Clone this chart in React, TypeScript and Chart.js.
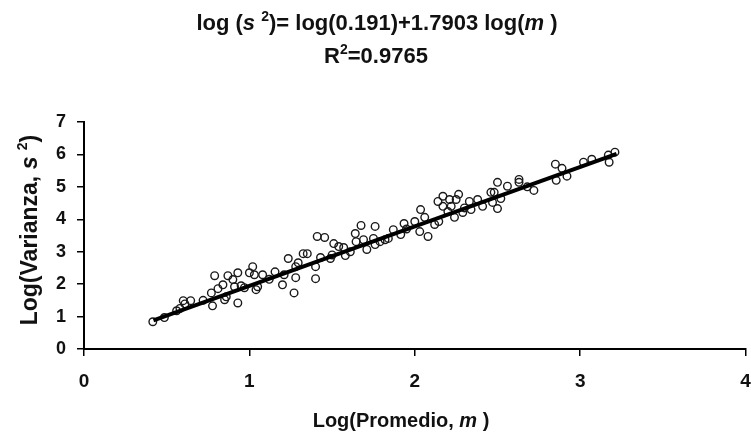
import React, { useEffect, useRef } from "react";
import { Chart, registerables } from "chart.js";

Chart.register(...registerables);

// Observed data: Log(Promedio, m) vs Log(Varianza, s^2)
const logMean = [
  0.416, 0.486, 0.56, 0.58, 0.60, 0.61, 0.645, 0.72, 0.79, 0.77, 0.777, 0.81, 0.84, 0.85, 0.86, 0.87,
  0.90, 0.93, 0.93, 0.91, 0.95, 0.97, 1.0, 1.02, 1.03, 1.05, 1.08, 1.04, 1.12, 1.155, 1.20, 1.21,
  1.235, 1.27, 1.28, 1.295, 1.325, 1.28, 1.35, 1.40, 1.40, 1.43, 1.41, 1.455, 1.49, 1.50, 1.51, 1.54,
  1.58, 1.57, 1.61, 1.64, 1.645, 1.675, 1.69, 1.71, 1.75, 1.76, 1.76, 1.79, 1.82, 1.84, 1.87, 1.915,
  1.935, 1.95, 2.0, 2.03, 2.035, 2.06, 2.08, 2.12, 2.145, 2.14, 2.17, 2.17, 2.21, 2.22, 2.25, 2.265,
  2.20, 2.24, 2.29, 2.30, 2.33, 2.34, 2.38, 2.41, 2.46, 2.48, 2.50, 2.47, 2.50, 2.52, 2.56, 2.63,
  2.63, 2.68, 2.72, 2.85, 2.89, 2.855, 2.92, 3.02, 3.07, 3.17, 3.175, 3.21,
];
const logVariance = [
  0.84, 0.97, 1.18, 1.25, 1.49, 1.39, 1.49, 1.50, 2.26, 1.73, 1.33, 1.86, 1.98, 1.52, 1.61, 2.26,
  2.14, 2.35, 1.42, 1.92, 1.95, 1.89, 2.35, 2.54, 2.29, 1.92, 2.29, 1.83, 2.15, 2.38, 1.98, 2.29,
  2.79, 1.73, 2.20, 2.66, 2.94, 2.54, 2.94, 2.54, 2.17, 2.82, 3.47, 3.44, 2.79, 2.90, 3.25, 3.16,
  2.88, 3.13, 3.0, 3.56, 3.31, 3.81, 3.37, 3.07, 3.41, 3.78, 3.22, 3.31, 3.37, 3.41, 3.68, 3.53,
  3.87, 3.70, 3.93, 3.62, 4.30, 4.06, 3.47, 3.84, 3.93, 4.55, 4.71, 4.40, 4.61, 4.40, 4.61, 4.77,
  4.24, 4.06, 4.21, 4.35, 4.55, 4.30, 4.61, 4.40, 4.83, 4.83, 5.14, 4.52, 4.33, 4.64, 5.02, 5.23,
  5.14, 5.00, 4.89, 5.70, 5.57, 5.20, 5.33, 5.76, 5.85, 5.98, 5.76, 6.07,
];

// Fitted regression line end points
const fitX = [0.42, 3.22];
const fitY = [0.88, 6.02];

const xTickValues = [0, 1, 2, 3, 4];
const yTickValues = [0, 1, 2, 3, 4, 5, 6, 7];

type Seg = { t: string; it?: boolean; sup?: boolean };

const titleLine1: Seg[] = [
  { t: "log (" },
  { t: "s", it: true },
  { t: " " },
  { t: "2", sup: true },
  { t: ")= log(0.191)+1.7903 log(" },
  { t: "m", it: true },
  { t: " )" },
];
const titleLine2: Seg[] = [{ t: "R" }, { t: "2", sup: true }, { t: "=0.9765" }];
const xTitle: Seg[] = [{ t: "Log(Promedio, " }, { t: "m", it: true }, { t: " )" }];
const yTitle: Seg[] = [{ t: "Log(Varianza, " }, { t: "s", it: true }, { t: " " }, { t: "2", sup: true }, { t: ")" }];

const FAMILY = '"Liberation Sans", Arial, Helvetica, sans-serif';
const INK = "#111";

function drawRich(ctx: CanvasRenderingContext2D, segs: Seg[], x: number, y: number, size: number) {
  const fontFor = (s: Seg) =>
    `${s.it ? "italic " : ""}bold ${s.sup ? Math.round(size * 0.62) : size}px ${FAMILY}`;
  let total = 0;
  const widths = segs.map((s) => {
    ctx.font = fontFor(s);
    const w = ctx.measureText(s.t).width;
    total += w;
    return w;
  });
  let cx = x - total / 2;
  ctx.textAlign = "left";
  ctx.textBaseline = "alphabetic";
  ctx.fillStyle = INK;
  segs.forEach((s, i) => {
    ctx.font = fontFor(s);
    ctx.fillText(s.t, cx, s.sup ? y - size * 0.42 : y);
    cx += widths[i];
  });
}

const textPlugin = {
  id: "richText",
  afterDraw(chart: any) {
    const ctx: CanvasRenderingContext2D = chart.ctx;
    ctx.save();
    drawRich(ctx, titleLine1, 377, 30, 22);
    drawRich(ctx, titleLine2, 376, 63, 22);
    drawRich(ctx, xTitle, 401, 427, 20);
    ctx.translate(37, 230);
    ctx.rotate(-Math.PI / 2);
    drawRich(ctx, yTitle, 0, 0, 23);
    ctx.restore();
  },
};

export default function App() {
  const ref = useRef<HTMLCanvasElement | null>(null);

  useEffect(() => {
    if (!ref.current) return;
    const points = logMean.map((x, i) => ({ x, y: logVariance[i] }));
    const fit = fitX.map((x, i) => ({ x, y: fitY[i] }));
    const chart = new Chart(ref.current, {
      type: "scatter",
      data: {
        datasets: [
          {
            type: "line",
            label: "Ajuste",
            data: fit,
            borderColor: "#000",
            borderWidth: 4,
            pointRadius: 0,
            showLine: true,
            fill: false,
          } as any,
          {
            label: "Datos",
            data: points,
            pointStyle: "circle",
            pointRadius: 3.8,
            borderColor: "#1a1a1a",
            borderWidth: 1.4,
            backgroundColor: "rgba(255,255,255,0)",
          },
        ],
      },
      options: {
        responsive: false,
        animation: false,
        layout: { padding: { top: 122, right: 3, left: 0, bottom: 0 } },
        plugins: {
          legend: { display: false },
          tooltip: { enabled: false },
          title: { display: false },
        },
        scales: {
          x: {
            type: "linear",
            min: 0,
            max: 4,
            afterBuildTicks: (s: any) => {
              s.ticks = xTickValues.map((v) => ({ value: v }));
            },
            afterFit: (s: any) => {
              s.height = 86;
              s.paddingLeft = 0;
              s.paddingRight = 0;
            },
            ticks: {
              color: INK,
              padding: 14,
              font: { family: FAMILY, size: 19, weight: "bold" },
              callback: (v: any) => String(v),
            },
            grid: { display: true, drawOnChartArea: false, drawTicks: true, tickLength: 7, color: "#000", lineWidth: 1.5 },
            border: { display: true, color: "#000", width: 2 },
          },
          y: {
            type: "linear",
            min: 0,
            max: 7,
            afterBuildTicks: (s: any) => {
              s.ticks = yTickValues.map((v) => ({ value: v }));
            },
            afterFit: (s: any) => {
              s.width = 84;
              s.paddingTop = 0;
              s.paddingBottom = 0;
            },
            ticks: {
              color: INK,
              padding: 11,
              font: { family: FAMILY, size: 18, weight: "bold" },
              callback: (v: any) => String(v),
            },
            grid: { display: true, drawOnChartArea: false, drawTicks: true, tickLength: 7, color: "#000", lineWidth: 1.5 },
            border: { display: true, color: "#000", width: 2 },
          },
        },
      },
      plugins: [textPlugin],
    });
    return () => chart.destroy();
  }, []);

  return (
    <div style={{ position: "fixed", left: 0, top: 0, width: 751, height: 435, background: "#fff" }}>
      <canvas ref={ref} width={751} height={435} />
    </div>
  );
}
